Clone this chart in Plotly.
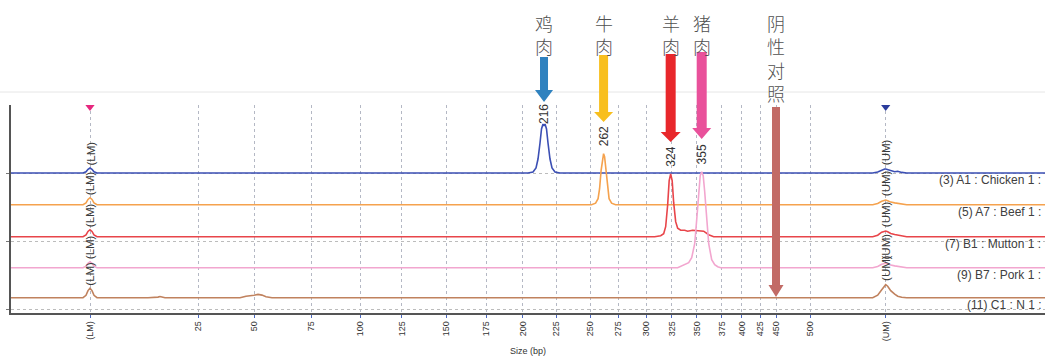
import numpy as np
import plotly.graph_objects as go

# ---- size ladder (migration position of each ladder fragment) ----
LADDER_TEXT = ["(LM)", "25", "50", "75", "100", "125", "150", "175", "200", "225",
               "250", "275", "300", "325", "350", "375", "400", "425", "450", "500", "(UM)"]
LADDER_BP = [15, 25, 50, 75, 100, 125, 150, 175, 200, 225,
             250, 275, 300, 325, 350, 375, 400, 425, 450, 500, 1000]
LADDER_POS = [90, 198.3, 254, 311, 360, 401.7, 446, 486, 522.7, 556,
              590, 618.3, 646, 671.7, 696.7, 721.7, 741.7, 760, 776, 810, 885.7]

LM_POS = LADDER_POS[0]
UM_POS = LADDER_POS[-1]

# ---- samples ----
SAMPLES = ["(3) A1 : Chicken 1 :", "(5) A7 : Beef 1 :", "(7) B1 : Mutton 1 :",
           "(9) B7 : Pork 1 :", "(11) C1 : N 1 :"]
BASELINES = [140, 108.3, 76.3, 45.3, 15.3]
LINE_COLORS = ["#3b4fb4", "#f5a24e", "#e8454a", "#f2a6cf", "#c0825e"]

# called fragment sizes (bp) for the positive samples
PEAK_BP = [216, 262, 324, 355]
PEAK_SAMPLE = [0, 1, 2, 3]

# lower-marker bump heights per sample
LM_DX = [-7, -4, -2, 0, 2, 4, 7]
LM_SHAPE = [0, 0.25, 0.75, 1, 0.75, 0.25, 0]
LM_HEIGHT = [5, 7, 7, 6, 9.5]

# upper-marker bumps per sample
UM_DX = [-13, -8, -4, -1, 0, 2, 5, 9, 12, 16, 21]
UM_SIGNAL = [
    [0, 1.0, 3.0, 4.0, 4.0, 3.5, 2.0, 1.2, 1.8, 0.6, 0],
    [0, 1.2, 3.5, 4.6, 4.7, 4.0, 2.6, 1.8, 1.4, 0.5, 0],
    [0, 1.5, 4.5, 5.6, 5.7, 5.0, 3.2, 2.2, 1.6, 0.5, 0],
    [0, 1.2, 3.5, 4.3, 4.4, 4.0, 2.6, 1.8, 1.4, 0.5, 0],
    [0, 2.5, 8.0, 12.0, 13.0, 11.5, 7.0, 3.5, 1.5, 0.5, 0],
]

# fragment peaks (offsets from the called position, signal above baseline)
CHICKEN_DX = [-16, -11, -8, -6, -4, -2.5, -1, 0, 1, 2.5, 4, 6, 8, 11, 16]
CHICKEN_SIG = [0, 1, 5, 14, 30, 44, 49, 47, 49, 44, 30, 14, 5, 1, 0]
BEEF_DX = [-12, -8, -5.5, -4, -2.5, -1, 0, 1, 2.5, 4, 5.5, 8, 12]
BEEF_SIG = [0, 1.5, 6, 16, 34, 48, 51, 48, 34, 16, 6, 1.5, 0]
MUTTON_DX = [-16, -10, -7, -5, -3, -1.5, 0, 1.5, 3, 5, 7, 10, 14, 17, 22, 28, 33, 38, 43]
MUTTON_SIG = [0, 1, 3, 10, 32, 56, 62.7, 56, 34, 15, 8.5, 6.5, 6.5, 5.5, 6.5, 6.0, 5.5, 2, 0]
PORK_DX = [-24, -18, -13, -10, -7, -5, -3, -1.5, 0, 1.5, 3, 5, 7, 10, 13, 16, 19]
PORK_SIG = [0, 3, 5, 10, 24, 48, 76, 92, 96, 92, 76, 48, 24, 8, 3, 1, 0]
PEAK_DX = [CHICKEN_DX, BEEF_DX, MUTTON_DX, PORK_DX]
PEAK_SIG = [CHICKEN_SIG, BEEF_SIG, MUTTON_SIG, PORK_SIG]

# minor primer/dimer bumps in the negative control
NEG_T = [148, 155, 158, 160, 162, 165, 172, 240, 246, 250, 254, 258, 262, 266, 272]
NEG_SIG = [0, 0, 0.6, 1.2, 0.6, 0, 0, 0, 1.5, 1.8, 2.5, 3.3, 2.6, 1, 0]

# arrow/annotation labels above the chart
TAG_TEXT = ["鸡肉", "牛肉", "羊肉", "猪肉", "阴性对照"]
TAG_COLORS = ["#2f82bf", "#f8bf1e", "#e8272b", "#e9519b", "#c26b66"]
NEG_ARROW_BP = 450

X0, X1 = 11, 1045
YTOP = 208.0


def size_to_pos(bp):
    return float(np.interp(bp, LADDER_BP, LADDER_POS))


def px(x):
    return (x - X0) / (X1 - X0)


def py(y):
    return y / YTOP


peak_pos = [size_to_pos(b) for b in PEAK_BP]

fig = go.Figure()

label_annots = []
for i, name in enumerate(SAMPLES):
    base = BASELINES[i]
    pts = [(X0, 0.0)]
    pts += [(LM_POS + d, LM_HEIGHT[i] * s) for d, s in zip(LM_DX, LM_SHAPE)]
    if i == 4:
        pts += list(zip(NEG_T, NEG_SIG))
    if i in PEAK_SAMPLE:
        k = PEAK_SAMPLE.index(i)
        pts += [(peak_pos[k] + d, s) for d, s in zip(PEAK_DX[k], PEAK_SIG[k])]
    pts += [(UM_POS + d, s) for d, s in zip(UM_DX, UM_SIGNAL[i])]
    pts.append((X1, 0.0))
    pts.sort(key=lambda p: p[0])
    xs = [p[0] for p in pts]
    ys = [base + p[1] for p in pts]
    fig.add_trace(go.Scatter(x=xs, y=ys, mode="lines", name=name,
                             line=dict(color=LINE_COLORS[i], width=1.6),
                             hoverinfo="skip", showlegend=False, cliponaxis=False))

    # marker labels
    label_annots.append(dict(x=LM_POS, y=base + LM_HEIGHT[i] + 0.5, xref="x", yref="y",
                             text="(LM)", textangle=-90, showarrow=False,
                             xanchor="center", yanchor="bottom",
                             font=dict(size=11.5, color="#3a3a3a")))
    label_annots.append(dict(x=UM_POS, y=base + max(UM_SIGNAL[i]) + 1.5, xref="x", yref="y",
                             text="(UM)", textangle=-90, showarrow=False,
                             xanchor="center", yanchor="bottom",
                             font=dict(size=11.5, color="#3a3a3a")))
    # sample name at the right end of each trace
    label_annots.append(dict(x=X1 - 2, y=base - 7, xref="x", yref="y", text=name,
                             showarrow=False, xanchor="right", yanchor="middle",
                             font=dict(size=12, color="#404040")))

# called-size labels above each fragment peak
for k, bp in enumerate(PEAK_BP):
    top = BASELINES[PEAK_SAMPLE[k]] + max(PEAK_SIG[k])
    y = min(top + 5, YTOP - 21)
    label_annots.append(dict(x=peak_pos[k], y=y, xref="x", yref="y", text=str(bp),
                             textangle=-90, showarrow=False, xanchor="center",
                             yanchor="bottom", font=dict(size=12, color="#333333")))

# marker flags at the top of the lane
fig.add_trace(go.Scatter(x=[LM_POS], y=[206], mode="markers",
                         marker=dict(symbol="triangle-down", size=8, color="#e6287e"),
                         hoverinfo="skip", showlegend=False, cliponaxis=False))
fig.add_trace(go.Scatter(x=[UM_POS], y=[206], mode="markers",
                         marker=dict(symbol="triangle-down", size=8, color="#2b3c9c"),
                         hoverinfo="skip", showlegend=False, cliponaxis=False))

# block arrows: (x, shaft top, head start, tip, shaft width, head width) in plot units
arrow_x = peak_pos + [size_to_pos(NEG_ARROW_BP)]
ARROW_TOP = [256, 258, 259, 261, 206]
ARROW_HEAD = [223, 201, 181, 185, 28]
ARROW_TIP = [211, 191, 171, 174, 16]
ARROW_SHAFT = [8, 9, 10, 10, 8]
ARROW_HEADW = [18, 19, 20, 19, 15]

shapes = []
for j in range(5):
    cx = arrow_x[j]
    sw, hw = ARROW_SHAFT[j] / 2, ARROW_HEADW[j] / 2
    t, h, tip = ARROW_TOP[j], ARROW_HEAD[j], ARROW_TIP[j]
    path = (f"M {px(cx - sw)} {py(t)} L {px(cx + sw)} {py(t)} L {px(cx + sw)} {py(h)} "
            f"L {px(cx + hw)} {py(h)} L {px(cx)} {py(tip)} L {px(cx - hw)} {py(h)} "
            f"L {px(cx - sw)} {py(h)} Z")
    shapes.append(dict(type="path", path=path, xref="paper", yref="paper",
                       fillcolor=TAG_COLORS[j], line=dict(width=0), layer="above"))

# faint frame line above the plot area
shapes.append(dict(type="line", xref="paper", yref="paper", x0=-0.02, x1=1, y0=py(221), y1=py(221),
                   line=dict(color="#e6e6e6", width=1), layer="below"))

# vertical tag text, one character per line
tag_annots = []
for j, txt in enumerate(TAG_TEXT):
    cx = arrow_x[j]
    tag_annots.append(dict(x=px(cx), y=py(313 - 8), xref="paper", yref="paper",
                           text="<br>".join(txt), showarrow=False,
                           xanchor="center", yanchor="top", align="center",
                           font=dict(size=18, color="#505050",
                                     family="Noto Sans CJK SC", weight=300)))

axis_title = dict(x=px(528), y=py(313 - 351), xref="paper", yref="paper", text="Size (bp)",
                  showarrow=False, xanchor="center", yanchor="middle",
                  font=dict(size=9, color="#333333"))

fig.update_layout(
    width=1045, height=363, autosize=False,
    margin=dict(l=11, r=0, t=105, b=50),
    paper_bgcolor="white", plot_bgcolor="white",
    font=dict(family="Liberation Sans, Arial, sans-serif", color="#333333"),
    xaxis=dict(range=[X0, X1], tickmode="array", tickvals=LADDER_POS, ticktext=LADDER_TEXT,
               tickangle=-90, tickfont=dict(size=9, color="#333333"),
               ticks="outside", ticklen=3, tickcolor="#4a68c0",
               showgrid=True, gridcolor="#b4b8c4", griddash="3px,3px", gridwidth=1,
               showline=True, linecolor="#555555", linewidth=1.5, zeroline=False,
               fixedrange=True),
    yaxis=dict(range=[0, YTOP], tickmode="array", tickvals=[4, 72, 140], showticklabels=False,
               ticks="outside", ticklen=3, tickcolor="#777777",
               showgrid=True, gridcolor="#bcbcbc", griddash="3px,3px", gridwidth=1,
               showline=True, linecolor="#555555", linewidth=1.5, zeroline=False,
               fixedrange=True),
    shapes=shapes,
    annotations=label_annots + tag_annots + [axis_title],
)

fig.write_html("out.html")
